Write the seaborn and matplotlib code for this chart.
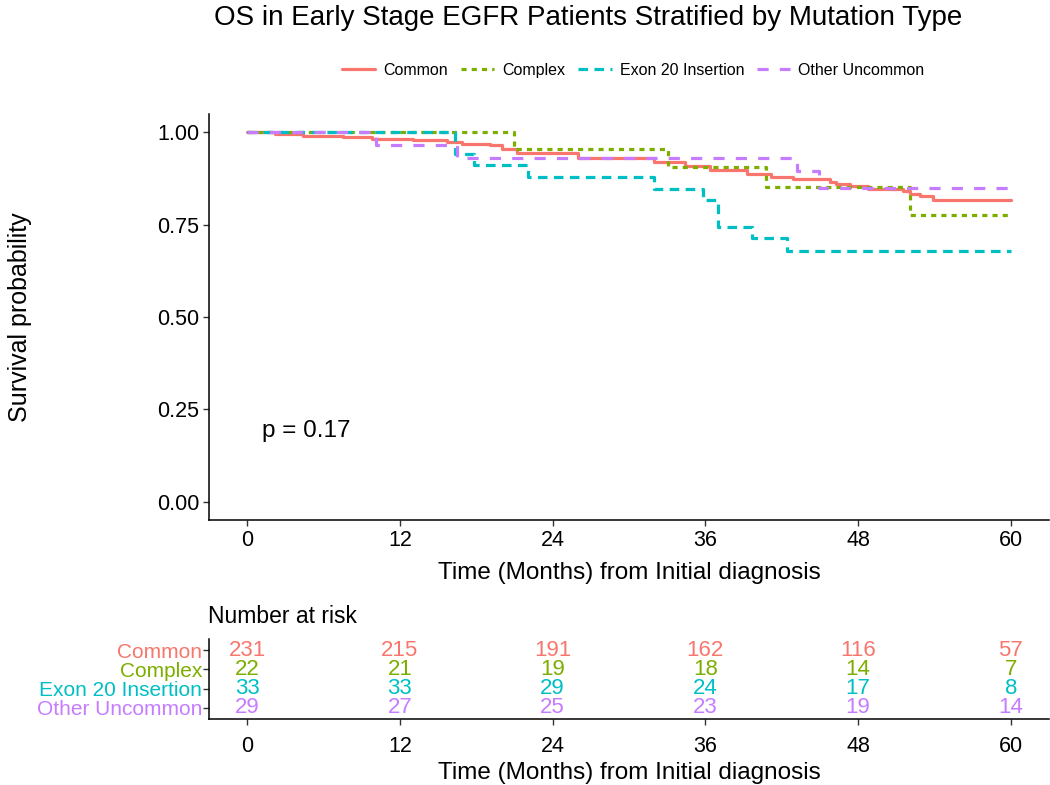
import numpy as np
import pandas as pd
import matplotlib
matplotlib.use("Agg")
import matplotlib.pyplot as plt
import seaborn as sns

# Kaplan-Meier step estimates per mutation group (time in months, survival)
common_t = [0, 2.2, 4.4, 7.5, 9.8, 13.0, 15.7, 16.9, 19.1, 20.0, 21.2, 26.0, 32.0, 34.4,
            36.4, 39.3, 41.2, 42.9, 45.8, 46.3, 47.4, 48.8, 51.5, 52.1, 52.9, 53.9, 60]
common_s = [1.0, 0.996, 0.991, 0.988, 0.983, 0.979, 0.975, 0.970, 0.965, 0.956, 0.945, 0.930,
            0.921, 0.908, 0.897, 0.887, 0.878, 0.875, 0.867, 0.861, 0.854, 0.847, 0.840,
            0.834, 0.829, 0.818, 0.818]

complex_t = [0, 21.0, 33.1, 40.8, 52.1, 60]
complex_s = [1.0, 0.955, 0.906, 0.851, 0.777, 0.777]

exon20_t = [0, 16.3, 17.8, 22.1, 32.0, 35.8, 37.0, 39.7, 42.4, 60]
exon20_s = [1.0, 0.941, 0.912, 0.879, 0.848, 0.816, 0.745, 0.714, 0.678, 0.678]

other_t = [0, 10.1, 16.5, 43.2, 44.9, 60]
other_s = [1.0, 0.966, 0.931, 0.895, 0.850, 0.850]

groups = ["Common", "Complex", "Exon 20 Insertion", "Other Uncommon"]
palette = ["#F8766D", "#7CAE00", "#00BFC4", "#C77CFF"]

# Number at risk table
risk_times = [0, 12, 24, 36, 48, 60]
risk_common = [231, 215, 191, 162, 116, 57]
risk_complex = [22, 21, 19, 18, 14, 7]
risk_exon20 = [33, 33, 29, 24, 17, 8]
risk_other = [29, 27, 25, 23, 19, 14]

p_text = "p = 0.17"

curves = pd.concat([
    pd.DataFrame({"time": t, "surv": s, "group": g})
    for t, s, g in zip([common_t, complex_t, exon20_t, other_t],
                       [common_s, complex_s, exon20_s, other_s], groups)
], ignore_index=True)

sns.set_theme(style="white")
plt.rcParams["font.family"] = ["Liberation Sans", "DejaVu Sans"]
plt.rcParams["text.color"] = "black"
plt.rcParams["axes.labelcolor"] = "black"
plt.rcParams["xtick.color"] = "black"
plt.rcParams["ytick.color"] = "black"

fig = plt.figure(figsize=(10.5, 7.85), dpi=100)
ax = fig.add_axes([0.199, 0.3376, 0.8, 0.5172])

dash_map = {
    "Common": "",
    "Complex": (1.6, 1.6),
    "Exon 20 Insertion": (3.0, 2.0),
    "Other Uncommon": (3.5, 3.5),
}
sns.lineplot(data=curves, x="time", y="surv", hue="group", style="group",
             hue_order=groups, style_order=groups, palette=palette,
             dashes=dash_map, drawstyle="steps-post", estimator=None, sort=False,
             linewidth=2.3, ax=ax, legend=True)

ax.set_xlim(-3, 63)
ax.set_ylim(-0.05, 1.05)
ax.set_xticks([0, 12, 24, 36, 48, 60])
ax.set_yticks([0, 0.25, 0.5, 0.75, 1.0])
ax.set_yticklabels(["0.00", "0.25", "0.50", "0.75", "1.00"])
ax.tick_params(axis="both", labelsize=15.5, length=4, width=1, color="#333333",
               labelcolor="black", pad=3, left=True, bottom=True)
for side in ["top", "right"]:
    ax.spines[side].set_visible(False)
for side in ["left", "bottom"]:
    ax.spines[side].set_color("black")
    ax.spines[side].set_linewidth(1.1)
ax.set_xlabel("Time (Months) from Initial diagnosis", fontsize=17.5, labelpad=8)
ax.set_ylabel("")
fig.text(0.019, 0.596, "Survival probability", rotation=90, fontsize=18,
         ha="center", va="center")
ax.text(1.2, 0.19, p_text, fontsize=17.5, ha="left", va="center")

handles, labels = ax.get_legend_handles_labels()
ax.legend(handles, labels, loc="center", bbox_to_anchor=(0.505, 1.108), ncol=4,
          frameon=False, fontsize=11.5, handlelength=2.1, columnspacing=0.8,
          handletextpad=0.5)

fig.text(0.56, 0.977, "OS in Early Stage EGFR Patients Stratified by Mutation Type",
         fontsize=20, ha="center", va="center")

# Risk table
ax2 = fig.add_axes([0.199, 0.0841, 0.8, 0.1019])
risk_rows = [risk_common, risk_complex, risk_exon20, risk_other]
row_pos = [4, 3, 2, 1]
for vals, y, c in zip(risk_rows, row_pos, palette):
    for t, v in zip(risk_times, vals):
        ax2.text(t, y, str(v), color=c, fontsize=16, ha="center", va="center")
ax2.set_xlim(-3, 63)
ax2.set_ylim(0.4, 4.6)
ax2.set_xticks(risk_times)
ax2.set_yticks(row_pos)
ax2.set_yticklabels(groups)
for lab, c in zip(ax2.get_yticklabels(), palette):
    lab.set_color(c)
ax2.tick_params(axis="y", labelsize=15, length=4, width=1, color="#333333", pad=1, left=True)
ax2.tick_params(axis="x", labelsize=15.5, length=4, width=1, color="#333333",
                labelcolor="black", pad=8, bottom=True)
for side in ["top", "right"]:
    ax2.spines[side].set_visible(False)
for side in ["left", "bottom"]:
    ax2.spines[side].set_color("black")
    ax2.spines[side].set_linewidth(1.1)
ax2.set_xlabel("Time (Months) from Initial diagnosis", fontsize=17.5, labelpad=4)
fig.text(0.198, 0.215, "Number at risk", fontsize=16.5, ha="left", va="center")

fig.savefig("out.png", dpi=100)
